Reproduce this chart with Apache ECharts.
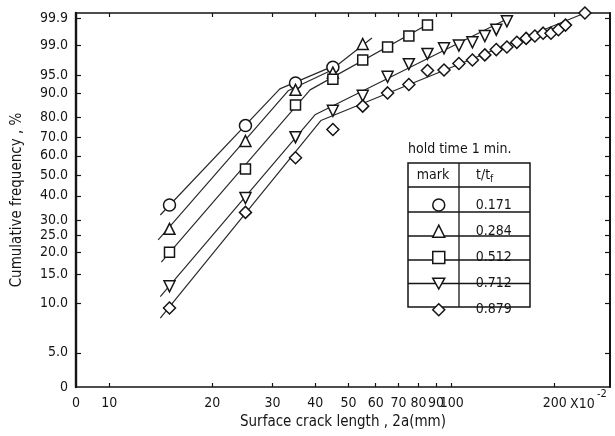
<!DOCTYPE html>
<html><head><meta charset="utf-8">
<script src="https://cdn.jsdelivr.net/npm/echarts@6/dist/echarts.min.js"></script>
<style>html,body{margin:0;padding:0;background:#fff}#c{width:615px;height:436px}</style>
</head><body><div id="c"></div>
<script>
// ---------- data ----------
const xTicks = [10, 20, 30, 40, 50, 60, 70, 80, 90, 100, 200];
const yTickValues = [99.9, 99, 95, 90, 80, 70, 60, 50, 40, 30, 25, 20, 15, 10, 5];
const yTickLabels = ['99.9', '99.0', '95.0', '90.0', '80.0', '70.0', '60.0', '50.0', '40.0', '30.0', '25.0', '20.0', '15.0', '10.0', '5.0'];
const seriesNames = ['0.171', '0.284', '0.512', '0.712', '0.879'];

const lenCircle = [15, 25, 35, 45];
const freqCircle = [36, 76, 93, 96.5];
const lenTriangle = [15, 25, 35, 45, 55];
const freqTriangle = [27, 68, 91, 95.5, 99.1];
const lenSquare = [15, 25, 35, 45, 55, 65, 75, 85];
const freqSquare = [20, 53, 85.5, 94, 97.6, 98.9, 99.5, 99.8];
const lenDownTri = [15, 25, 35, 45, 55, 65, 75, 85, 95, 105, 115, 125, 135, 145];
const freqDownTri = [12.7, 39, 70, 83, 89, 94.6, 97, 98.3, 98.8, 99.0, 99.2, 99.5, 99.7, 99.86];
const lenDiamond = [15, 25, 35, 45, 55, 65, 75, 85, 95, 105, 115, 125, 135, 145, 155, 165, 175, 185, 195, 205, 215, 245];
const freqDiamond = [9.4, 33, 59, 74, 85, 90, 92.6, 95.9, 96, 97.1, 97.6, 98.2, 98.7, 98.9, 99.2, 99.4, 99.5, 99.6, 99.6, 99.7, 99.8, 99.94];

// fitted lines (vertices)
const fitCircleX = [14.1, 31.5, 46];
const fitCircleY = [32.0, 91.3, 96.9];
const fitTriangleX = [13.9, 33.3, 44.1, 58.5];
const fitTriangleY = [23.5, 90.7, 95.8, 99.42];
const fitSquareX = [14.2, 38.6, 87.6];
const fitSquareY = [17.6, 91.0, 99.85];
const fitDownTriX = [14.1, 39.9, 151];
const fitDownTriY = [11.0, 81.2, 99.918];
const fitDiamondX = [14.1, 41.5, 245];
const fitDiamondY = [8.16, 78.5, 99.94];

const xMin = 8, xMax = 290;
const yMinPct = 3.06, yMaxPct = 99.94;

// ---------- helpers ----------
const FONT = '"DejaVu Sans Condensed","DejaVu Sans",sans-serif';
const INK = '#151515';
const weib = p => Math.log(-Math.log(1 - p / 100));
const pts = (xs, ps) => xs.map((x, i) => [x, weib(ps[i])]);
const yMin = weib(yMinPct), yMax = weib(yMaxPct);
const yCustom = [yMin].concat(yTickValues.map(weib));
const yLabel = v => {
  if (Math.abs(v - yMin) < 1e-6) return '0';
  let best = 0, d = Infinity;
  yTickValues.forEach((t, i) => { const dd = Math.abs(weib(t) - v); if (dd < d) { d = dd; best = i; } });
  return yTickLabels[best];
};

const symbols = ['circle', 'triangle', 'rect', 'path://M0,0L10,0L5,9Z', 'diamond'];
const sizes = [12, 11, 10, 11, 12];
const scatterData = [pts(lenCircle, freqCircle), pts(lenTriangle, freqTriangle), pts(lenSquare, freqSquare), pts(lenDownTri, freqDownTri), pts(lenDiamond, freqDiamond)];
const fitData = [pts(fitCircleX, fitCircleY), pts(fitTriangleX, fitTriangleY), pts(fitSquareX, fitSquareY), pts(fitDownTriX, fitDownTriY), pts(fitDiamondX, fitDiamondY)];

const series = [];
fitData.forEach((d, i) => series.push({
  type: 'line', name: 'fit' + i, data: d, symbol: 'none', silent: true, z: 2,
  lineStyle: { color: '#2a2a2a', width: 1.2 }
}));
scatterData.forEach((d, i) => series.push({
  type: 'scatter', name: seriesNames[i], data: d, symbol: symbols[i], symbolSize: sizes[i], z: 5,
  itemStyle: { color: '#fff', borderColor: INK, borderWidth: 1.5, opacity: 1 }
}));

const chart = echarts.init(document.getElementById('c'), null, { renderer: 'canvas' });
chart.setOption({
  animation: false,
  backgroundColor: '#fff',
  grid: { left: 76, right: 5, top: 13, bottom: 49, containLabel: false, outerBoundsMode: 'none' },
  xAxis: [{
    type: 'log', logBase: 10, min: xMin, max: xMax, position: 'bottom',
    name: 'Surface crack length , 2a(mm)', nameLocation: 'middle', nameGap: 28,
    nameTextStyle: { fontFamily: FONT, fontSize: 15, color: INK },
    axisLine: { show: true, onZero: false, lineStyle: { color: INK, width: 1.6 } },
    axisTick: { show: true, inside: true, length: 4, customValues: xTicks, lineStyle: { color: INK, width: 1.2 } },
    axisLabel: { show: true, customValues: [xMin].concat(xTicks), margin: 9, fontFamily: FONT, fontSize: 14, color: INK,
      formatter: v => (v < 9 ? '0' : String(Math.round(v))) },
    splitLine: { show: false }, minorTick: { show: false }
  }, {
    type: 'log', logBase: 10, min: xMin, max: xMax, position: 'top',
    axisLine: { show: true, onZero: false, lineStyle: { color: INK, width: 1.6 } },
    axisTick: { show: true, inside: true, length: 4, customValues: xTicks, lineStyle: { color: INK, width: 1.2 } },
    axisLabel: { show: false }, splitLine: { show: false }
  }],
  yAxis: [{
    type: 'value', min: yMin, max: yMax, position: 'left',
    name: 'Cumulative frequency , %', nameLocation: 'middle', nameGap: 51,
    nameTextStyle: { fontFamily: FONT, fontSize: 15, color: INK },
    axisLine: { show: true, onZero: false, lineStyle: { color: INK, width: 2.4 } },
    axisTick: { show: true, inside: true, length: 5, customValues: yCustom.slice(1), lineStyle: { color: INK, width: 1.2 } },
    axisLabel: { show: true, customValues: yCustom, margin: 8, fontFamily: FONT, fontSize: 14, color: INK, formatter: yLabel },
    splitLine: { show: false }
  }, {
    type: 'value', min: yMin, max: yMax, position: 'right',
    axisLine: { show: true, onZero: false, lineStyle: { color: INK, width: 2 } },
    axisTick: { show: true, inside: true, length: 5, customValues: yCustom.slice(1), lineStyle: { color: INK, width: 1.2 } },
    axisLabel: { show: false }, splitLine: { show: false }
  }],
  legend: {
    data: seriesNames, orient: 'vertical', left: 427, top: 193,
    itemWidth: 12, itemHeight: 12, itemGap: 12.2,
    itemStyle: { color: '#fff', borderColor: INK, borderWidth: 1.5 },
    textStyle: { fontFamily: FONT, fontSize: 14, color: INK, padding: [0, 0, 0, 26] },
    selectedMode: false
  },
  graphic: [
    { type: 'text', left: 408, top: 142, style: { text: 'hold time 1 min.', fontFamily: FONT, fontSize: 14, fill: INK } },
    { type: 'rect', shape: { x: 408, y: 163, width: 122, height: 144 }, style: { fill: 'none', stroke: INK, lineWidth: 1.5 } },
    { type: 'line', shape: { x1: 459, y1: 163, x2: 459, y2: 307 }, style: { stroke: INK, lineWidth: 1.3 } },
    { type: 'line', shape: { x1: 408, y1: 187, x2: 530, y2: 187 }, style: { stroke: INK, lineWidth: 1.3 } },
    { type: 'line', shape: { x1: 408, y1: 212, x2: 530, y2: 212 }, style: { stroke: INK, lineWidth: 1.3 } },
    { type: 'line', shape: { x1: 408, y1: 236, x2: 530, y2: 236 }, style: { stroke: INK, lineWidth: 1.3 } },
    { type: 'line', shape: { x1: 408, y1: 260, x2: 530, y2: 260 }, style: { stroke: INK, lineWidth: 1.3 } },
    { type: 'line', shape: { x1: 408, y1: 283.5, x2: 530, y2: 283.5 }, style: { stroke: INK, lineWidth: 1.3 } },
    { type: 'text', x: 433, y: 175, style: { text: 'mark', fontFamily: FONT, fontSize: 14, fill: INK, align: 'center', verticalAlign: 'middle' } },
    { type: 'text', x: 476, y: 175, style: { text: 't/t{s|f}', fontFamily: FONT, fontSize: 14, fill: INK, verticalAlign: 'middle',
        rich: { s: { fontFamily: FONT, fontSize: 10, fill: INK, padding: [8, 0, 0, 0] } } } },
    { type: 'text', x: 570, y: 404, style: { text: 'X10', fontFamily: FONT, fontSize: 14, fill: INK, verticalAlign: 'middle' } },
    { type: 'text', x: 597, y: 394, style: { text: '-2', fontFamily: FONT, fontSize: 11, fill: INK, verticalAlign: 'middle' } }
  ],
  series: series
});
</script>
</body></html>
